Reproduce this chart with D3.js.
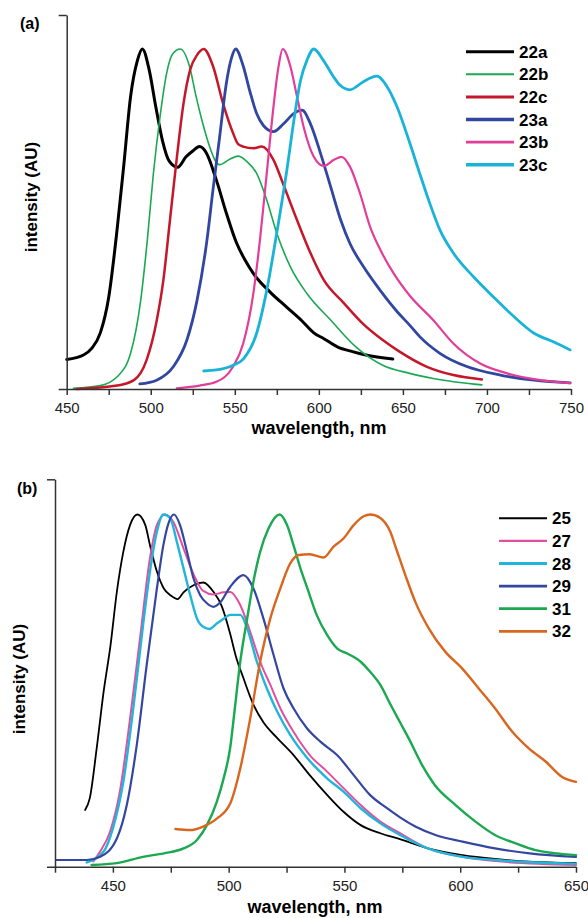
<!DOCTYPE html>
<html>
<head>
<meta charset="utf-8">
<script src="https://cdn.jsdelivr.net/npm/d3@7"></script>
<style>
  body { margin: 0; background: #fff; }
  text { font-family: "Liberation Sans", Arial, sans-serif; }
</style>
</head>
<body>
<svg id="chart" width="588" height="918"></svg>
<script>
// ---- panel (a) spectra: [wavelength nm, normalised intensity] ----
const s22a = [[450,0.087],[460,0.10],[465,0.12],[470,0.165],[475,0.27],[480,0.47],[484,0.66],[488,0.86],[492,0.965],[495,1.0],[499,0.94],[503,0.83],[507,0.73],[511,0.67],[516,0.652],[521,0.683],[525,0.70],[529,0.713],[533,0.695],[539,0.615],[545,0.517],[551,0.43],[556,0.38],[561,0.34],[571,0.285],[581,0.24],[590,0.2],[597,0.165],[603,0.148],[611,0.124],[620,0.11],[628,0.10],[644,0.088]];
const s22b = [[454,0.002],[470,0.01],[480,0.036],[488,0.105],[494,0.26],[498,0.44],[501.5,0.63],[505.5,0.80],[509.5,0.93],[513,0.985],[517.5,1.0],[523,0.95],[527,0.86],[531,0.78],[535,0.713],[538,0.675],[541,0.66],[547,0.676],[552,0.685],[557,0.67],[563,0.634],[569,0.556],[575,0.458],[583,0.36],[593,0.28],[607,0.203],[622,0.124],[638,0.07],[654,0.046],[668,0.031],[697,0.012]];
const s22c = [[456,0.0],[480,0.01],[490,0.026],[497.5,0.085],[503.5,0.2],[507.5,0.32],[511.5,0.5],[515.5,0.68],[519.5,0.84],[523.5,0.94],[527.5,0.982],[531.5,1.0],[537,0.95],[543,0.84],[549,0.752],[552,0.72],[555,0.713],[561,0.708],[566,0.713],[573,0.674],[579,0.60],[587,0.497],[595,0.40],[603,0.32],[615,0.252],[626,0.193],[638,0.144],[648,0.11],[664,0.066],[680,0.041],[697,0.028]];
const s23a = [[493.5,0.015],[503.5,0.026],[513.5,0.066],[521.5,0.144],[527.5,0.26],[533.5,0.44],[537,0.585],[541,0.742],[545,0.90],[548,0.973],[550.5,1.0],[555,0.95],[559,0.875],[563,0.81],[567,0.775],[573,0.757],[579,0.78],[585,0.81],[590,0.82],[595,0.78],[601,0.693],[607,0.595],[613,0.497],[618.5,0.428],[626.5,0.36],[636.5,0.29],[647,0.225],[654,0.188],[660,0.154],[672,0.105],[688,0.066],[708,0.041],[728,0.026],[749.5,0.018]];
const s23b = [[515.5,0.002],[529,0.01],[539,0.021],[549,0.066],[555,0.134],[561,0.28],[565,0.44],[569,0.634],[573,0.83],[576,0.948],[578.5,1.0],[583,0.95],[587,0.86],[591,0.77],[597,0.683],[603,0.656],[609,0.674],[613.5,0.683],[618.5,0.654],[624.5,0.575],[630.5,0.477],[636.5,0.41],[644.5,0.34],[654,0.275],[668,0.203],[680,0.134],[696,0.075],[712,0.046],[732,0.026],[749.5,0.017]];
const s23c = [[531.5,0.053],[539,0.056],[549,0.07],[555,0.088],[563,0.164],[569,0.29],[575,0.46],[581,0.645],[585,0.785],[589,0.905],[593,0.968],[597,1.0],[602.5,0.968],[608.5,0.92],[612.5,0.894],[618.5,0.88],[626.5,0.904],[634.5,0.92],[640.5,0.89],[646.5,0.83],[654,0.725],[660,0.634],[666,0.546],[672,0.468],[680,0.40],[692,0.33],[704,0.27],[716,0.213],[728,0.164],[739.5,0.139],[749.5,0.115]];

// ---- panel (b) spectra ----
const s25 = [[438,0.161],[440,0.194],[443,0.336],[446,0.497],[449,0.63],[451.7,0.78],[454.5,0.894],[457.4,0.97],[460.6,1.0],[464,0.97],[466,0.913],[469,0.838],[472,0.79],[475,0.77],[478,0.76],[480.5,0.779],[485,0.80],[489,0.807],[493.5,0.78],[497,0.74],[500.7,0.66],[503,0.60],[506.4,0.535],[510.7,0.46],[515,0.41],[521,0.365],[528,0.317],[535,0.26],[542.5,0.204],[549.6,0.156],[557,0.118],[565.5,0.095],[574,0.078],[586,0.052],[601,0.033],[615,0.022],[630,0.014],[650,0.01]];
const s27 = [[441.6,0.015],[444.5,0.043],[448.8,0.10],[453,0.213],[457.4,0.42],[461.7,0.648],[466,0.876],[469,0.97],[472.6,1.0],[476,0.98],[480.5,0.904],[485,0.828],[489,0.783],[493.4,0.773],[497.8,0.779],[500.7,0.78],[505,0.743],[509.3,0.667],[513.6,0.582],[518,0.516],[522.3,0.45],[528,0.383],[535,0.317],[542.5,0.27],[549.6,0.223],[557,0.175],[565.5,0.128],[574,0.095],[586,0.052],[601,0.028],[615,0.016],[650,0.005]];
const s28 = [[438.7,0.012],[446,0.043],[450,0.109],[454.5,0.241],[459,0.46],[463.2,0.696],[466,0.838],[469,0.951],[471.8,1.0],[474.7,0.99],[477.6,0.923],[480.5,0.847],[483.4,0.771],[486.3,0.705],[489,0.681],[491.7,0.675],[495,0.691],[498,0.705],[500.7,0.715],[505,0.715],[508,0.677],[512.2,0.582],[516.5,0.506],[521,0.44],[526.6,0.374],[534,0.308],[542.5,0.251],[549.6,0.213],[557,0.166],[565.5,0.123],[574,0.09],[586,0.052],[601,0.028],[615,0.019],[650,0.008]];
const s29 = [[425.5,0.019],[438.7,0.019],[444.5,0.028],[451.7,0.08],[456,0.175],[460.3,0.345],[464.6,0.573],[469,0.79],[471.8,0.913],[474,0.975],[476.4,1.0],[479,0.97],[482,0.894],[484.8,0.819],[487.7,0.771],[490.6,0.748],[493.4,0.738],[496.3,0.75],[500.7,0.795],[506.4,0.828],[510.7,0.79],[515,0.705],[519.4,0.601],[523.7,0.506],[528,0.45],[533.8,0.393],[539.6,0.355],[546.8,0.317],[554,0.26],[561,0.204],[568.4,0.166],[574,0.14],[580.6,0.114],[589.3,0.09],[601,0.071],[615,0.052],[630,0.038],[650,0.028]];
const s31 = [[440.8,0.005],[451.7,0.01],[463,0.028],[472,0.038],[480.5,0.052],[486.3,0.076],[490.6,0.118],[494.9,0.185],[497.8,0.25],[500.7,0.34],[502.5,0.44],[505,0.582],[508,0.705],[510.7,0.81],[513.6,0.894],[517.2,0.96],[522,1.0],[525.2,0.97],[528,0.913],[531,0.847],[534,0.79],[538,0.715],[542.5,0.658],[546.8,0.62],[551,0.606],[557,0.582],[561,0.554],[565.5,0.516],[570,0.459],[574,0.41],[577.7,0.365],[583.5,0.289],[589,0.232],[598,0.175],[606.6,0.128],[615,0.09],[624,0.066],[632.5,0.047],[650,0.033]];
const s32 = [[477,0.107],[483.4,0.104],[489,0.114],[495,0.137],[500.7,0.18],[505,0.279],[509.3,0.421],[513.6,0.582],[518,0.705],[522.3,0.79],[526.6,0.861],[530.2,0.885],[535,0.887],[541,0.878],[545.3,0.909],[549.6,0.932],[554,0.97],[558.3,0.995],[561.2,1.0],[565.5,0.99],[569.8,0.951],[572.5,0.9],[576.3,0.828],[580.6,0.752],[586.4,0.677],[593.6,0.61],[600.8,0.563],[608,0.506],[615,0.45],[622.5,0.383],[629.6,0.336],[637,0.298],[644,0.255],[650,0.241]];

const namesA = ["22a", "22b", "22c", "23a", "23b", "23c"];
const namesB = ["25", "27", "28", "29", "31", "32"];
const xTicksA = d3.range(450, 751, 25);
const xTicksB = d3.range(425, 651, 25);

const svg = d3.select("#chart");

function drawPanel(opt) {
  const x = d3.scaleLinear().domain(opt.xDomain).range([opt.left, opt.right]);
  const y = d3.scaleLinear().domain([0, 1.1]).range([opt.bottom, opt.top]);
  const g = svg.append("g");

  const line = d3.line()
    .x(d => x(d[0]))
    .y(d => y(d[1]))
    .curve(d3.curveMonotoneX);

  opt.series.forEach(s => {
    g.append("path")
      .datum(s.data)
      .attr("fill", "none")
      .attr("stroke", s.color)
      .attr("stroke-width", s.width)
      .attr("stroke-linejoin", "round")
      .attr("stroke-linecap", "round")
      .attr("d", line);
  });

  // x axis, labels every 50 nm
  const xAxis = g.append("g")
    .attr("transform", `translate(0,${opt.bottom})`)
    .call(d3.axisBottom(x).tickValues(opt.xTicks).tickSize(6).tickSizeOuter(0)
      .tickFormat(d => d % 50 === 0 ? d : ""));
  xAxis.select(".domain").attr("d", `M${opt.left - 8},0.5H${opt.right}`);
  xAxis.selectAll("text")
    .style("font-size", "15px")
    .attr("fill", "#222")
    .attr("dy", "1em");

  // y axis: only the top tick, no labels
  g.append("g")
    .attr("transform", `translate(${opt.left},0)`)
    .call(d3.axisLeft(y).tickValues([1.1]).tickSize(8).tickSizeOuter(0).tickFormat(""));

  g.selectAll(".domain, .tick line").attr("stroke", "#333").attr("stroke-width", 1.5);

  g.append("text")
    .attr("x", opt.titleX)
    .attr("y", opt.titleY)
    .attr("text-anchor", "middle")
    .style("font-size", "18px")
    .attr("font-weight", "bold")
    .text("wavelength, nm");

  g.append("text")
    .attr("transform", `translate(${opt.yLabelX},${opt.yLabelY}) rotate(-90)`)
    .attr("text-anchor", "middle")
    .style("font-size", "17px")
    .attr("font-weight", "bold")
    .text("intensity (AU)");

  g.append("text")
    .attr("x", opt.tagX)
    .attr("y", opt.tagY)
    .style("font-size", "16px")
    .attr("font-weight", "bold")
    .text(opt.tag);

  // legend
  const leg = g.append("g");
  opt.series.forEach((s, i) => {
    const ly = opt.legY + i * 22.6;
    leg.append("line")
      .attr("x1", opt.legX1).attr("x2", opt.legX2)
      .attr("y1", ly).attr("y2", ly)
      .attr("stroke", s.color)
      .attr("stroke-width", s.legWidth);
    leg.append("text")
      .attr("x", opt.legX2 + 5)
      .attr("y", ly)
      .attr("dy", "0.36em")
      .style("font-size", "17px")
      .attr("font-weight", "bold")
      .text(s.name);
  });
}

drawPanel({
  tag: "(a)", tagX: 20, tagY: 29,
  xDomain: [450, 750], xTicks: xTicksA,
  left: 66.7, right: 571, top: 15, bottom: 389,
  titleX: 319, titleY: 434, yLabelX: 37, yLabelY: 197,
  legX1: 466, legX2: 514, legY: 51.7,
  series: [
    { name: namesA[0], data: s22a, color: "#000000", width: 3, legWidth: 3 },
    { name: namesA[1], data: s22b, color: "#1aa852", width: 1.6, legWidth: 2 },
    { name: namesA[2], data: s22c, color: "#c4182a", width: 2.5, legWidth: 3 },
    { name: namesA[3], data: s23a, color: "#3146a0", width: 2.8, legWidth: 3.5 },
    { name: namesA[4], data: s23b, color: "#e23d99", width: 2.2, legWidth: 2.6 },
    { name: namesA[5], data: s23c, color: "#1ab3d8", width: 2.8, legWidth: 3.5 }
  ]
});

drawPanel({
  tag: "(b)", tagX: 17, tagY: 494,
  xDomain: [425, 650], xTicks: xTicksB,
  left: 55, right: 576, top: 479.3, bottom: 866.7,
  titleX: 315, titleY: 913, yLabelX: 25, yLabelY: 679,
  legX1: 499, legX2: 547, legY: 518.3,
  series: [
    { name: namesB[0], data: s25, color: "#000000", width: 1.8, legWidth: 2 },
    { name: namesB[1], data: s27, color: "#e14f9f", width: 2, legWidth: 2.4 },
    { name: namesB[2], data: s28, color: "#21b5d9", width: 2.4, legWidth: 2.8 },
    { name: namesB[3], data: s29, color: "#3447a0", width: 2.2, legWidth: 2.6 },
    { name: namesB[4], data: s31, color: "#1ba851", width: 2.4, legWidth: 2.8 },
    { name: namesB[5], data: s32, color: "#d9661e", width: 2.4, legWidth: 2.8 }
  ]
});
</script>
</body>
</html>
